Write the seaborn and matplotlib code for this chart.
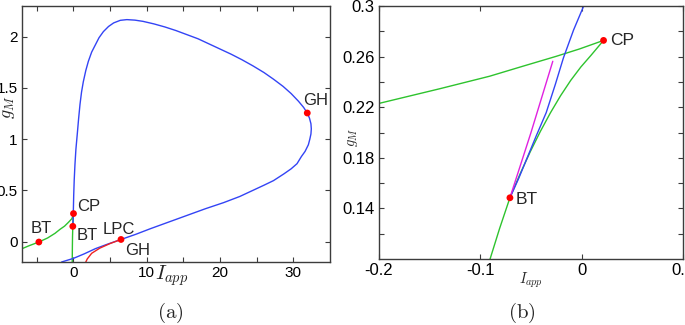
import matplotlib.pyplot as plt
import seaborn as sns
from matplotlib.ticker import FixedLocator, FixedFormatter

# Hopf curve (blue): from BT up around the loop and back down to the bottom left
hopf_x = [-0.0708, -0.062, -0.0548, -0.045, -0.035, -0.026, -0.018, -0.008, 0.002,
          0.05, 0.12, 0.22, 0.35, 0.55, 0.72, 0.91, 1.12, 1.36, 1.7, 2.05, 2.5,
          3.0, 3.5, 4.1, 4.8, 5.5, 6.4, 7.3, 8.4, 9.5, 11.0, 12.5, 14.0, 15.5,
          17.0, 18.5, 20.0, 21.5, 23.0, 24.5, 26.0, 27.3, 28.6, 29.7, 30.7, 31.4,
          31.9, 32.2, 32.4, 32.45, 32.4, 32.25, 32.05, 31.6, 31.1, 30.5, 29.7,
          28.7, 27.3, 26.0, 24.5, 22.7, 20.5, 18.0, 15.5, 13.0, 10.5, 8.5, 6.5,
          4.5, 3.0, 1.5, 0.0, -1.6]
hopf_y = [0.1484, 0.164, 0.178, 0.197, 0.2157, 0.238, 0.259, 0.281, 0.3,
          0.45, 0.6, 0.75, 0.9, 1.06, 1.2, 1.34, 1.46, 1.56, 1.67, 1.76, 1.85,
          1.92, 1.99, 2.05, 2.10, 2.135, 2.16, 2.167, 2.162, 2.15, 2.125, 2.095,
          2.06, 2.02, 1.98, 1.93, 1.88, 1.83, 1.775, 1.715, 1.65, 1.585, 1.515,
          1.445, 1.37, 1.31, 1.255, 1.205, 1.15, 1.1, 1.05, 1.0, 0.945, 0.88,
          0.83, 0.76, 0.71, 0.66, 0.595, 0.55, 0.5, 0.44, 0.38, 0.32, 0.255,
          0.19, 0.125, 0.07, 0.02, -0.03, -0.07, -0.12, -0.165, -0.2]

# saddle-node curve (green), left branch: BT(-4.7) up to CP
sn1_x = [-7.0, -6.0, -4.7, -3.5, -2.5, -1.8, -1.2, -0.7, -0.2, -0.14,
         -0.0908, -0.058, -0.0252, -0.0023, 0.0216]
sn1_y = [-0.07, -0.04, -0.005, 0.035, 0.08, 0.12, 0.15, 0.185, 0.223, 0.2346,
         0.2445, 0.2524, 0.2602, 0.266, 0.2728]

# saddle-node curve (green), lower branch: CP down through BT to the bottom
sn2_x = [0.0216, 0.0092, -0.0008, -0.0108, -0.0208, -0.0308, -0.0408, -0.0508,
         -0.0608, -0.0708, -0.081, -0.090, -0.11, -0.13, -0.15]
sn2_y = [0.2728, 0.2610, 0.2518, 0.2412, 0.2291, 0.2156, 0.2008, 0.1847,
         0.1672, 0.1484, 0.1241, 0.101, 0.05, -0.05, -0.2]

# limit point of cycles (red), from GH
lpc_x = [6.5, 5.0, 3.6, 2.5, 1.9, 1.7]
lpc_y = [0.02, -0.02, -0.065, -0.115, -0.17, -0.2]

# homoclinic (magenta), from BT
hom_x = [-0.0708, -0.05, -0.0285]
hom_y = [0.1484, 0.20, 0.2563]

# special points
pts_a_x = [-4.7, 0.0216, -0.0708, 6.5, 31.9]
pts_a_y = [-0.005, 0.2728, 0.1484, 0.02, 1.255]
lab_a = ["BT", "CP", "BT", "LPC", "GH", "GH"]
lab_a_x = [-5.8, 0.45, 0.45, 4.0, 7.05, 31.3]
lab_a_y = [0.08, 0.30, 0.016, 0.07, -0.13, 1.33]

pts_b_x = [0.0216, -0.0708]
pts_b_y = [0.2728, 0.1484]
lab_b = ["CP", "BT"]
lab_b_x = [0.0279, -0.0652]
lab_b_y = [0.2694, 0.1437]

# ticks
xa_major = [0, 10, 20, 30]
xa_minor = [-5, 5, 15, 25]
ya_major = [0, 0.5, 1, 1.5, 2]
ya_labels = ["0", "0.5", "1", "1.5", "2"]
xb_major = [-0.2, -0.1, 0, 0.1]
xb_labels = ["-0.2", "-0.1", "0", "0.1"]
yb_major = [0.14, 0.18, 0.22, 0.26, 0.3]
yb_labels = ["0.14", "0.18", "0.22", "0.26", "0.3"]
yb_minor = [0.12, 0.16, 0.2, 0.24, 0.28]

BLUE = "#3344f5"
GREEN = "#2ec32e"
RED = "#ee2222"
MAG = "#e021e0"
DOT = "#ff0000"

sns.set_theme(style="ticks")
plt.rcParams["font.family"] = ["Liberation Sans", "DejaVu Sans"]
plt.rcParams["mathtext.fontset"] = "cm"
plt.rcParams["axes.unicode_minus"] = False

fig = plt.figure(figsize=(6.85, 3.25), dpi=100)
ax_a = fig.add_axes([22 / 685, 63 / 325, 308 / 685, 256 / 325])
ax_b = fig.add_axes([379 / 685, 66 / 325, 304 / 685, 253 / 325])


def curve(ax, x, y, color):
    sns.lineplot(x=x, y=y, ax=ax, sort=False, estimator=None, color=color,
                 linewidth=1.0)


def style_axes(ax, size):
    for sp in ax.spines.values():
        sp.set_color("#3c3c3c")
        sp.set_linewidth(1.0)
    ax.tick_params(which="both", direction="in", top=True, right=True,
                   length=3.5, width=0.8, color="#3c3c3c", labelsize=size,
                   pad=3, labelcolor="black")
    ax.set_xlabel("")
    ax.set_ylabel("")


# panel (a)
curve(ax_a, sn1_x, sn1_y, GREEN)
curve(ax_a, sn2_x, sn2_y, GREEN)
curve(ax_a, hopf_x, hopf_y, BLUE)
curve(ax_a, lpc_x, lpc_y, RED)
sns.scatterplot(x=pts_a_x, y=pts_a_y, ax=ax_a, color=DOT, s=24,
                edgecolor="none", zorder=5)
for t, x, y in zip(lab_a, lab_a_x, lab_a_y):
    ax_a.text(x, y, t, fontsize=12, va="baseline", ha="left")
ax_a.set_xlim(-7, 35)
ax_a.set_ylim(-0.2, 2.3)
ax_a.xaxis.set_major_locator(FixedLocator(xa_major))
ax_a.xaxis.set_minor_locator(FixedLocator(xa_minor))
ax_a.yaxis.set_major_locator(FixedLocator(ya_major))
ax_a.yaxis.set_major_formatter(FixedFormatter(ya_labels))
style_axes(ax_a, 11)
ax_a.text(0.487, -0.005, r"$I_{app}$", transform=ax_a.transAxes,
          fontsize=15, ha="center", va="top")
ax_a.text(-0.045, 0.605, r"$g_M$", transform=ax_a.transAxes, fontsize=13,
          ha="center", va="center", rotation=90)

# panel (b)
curve(ax_b, sn1_x, sn1_y, GREEN)
curve(ax_b, sn2_x, sn2_y, GREEN)
curve(ax_b, hopf_x, hopf_y, BLUE)
curve(ax_b, hom_x, hom_y, MAG)
sns.scatterplot(x=pts_b_x, y=pts_b_y, ax=ax_b, color=DOT, s=24,
                edgecolor="none", zorder=5)
for t, x, y in zip(lab_b, lab_b_x, lab_b_y):
    ax_b.text(x, y, t, fontsize=12.5, va="baseline", ha="left")
ax_b.set_xlim(-0.2, 0.1)
ax_b.set_ylim(0.1, 0.3)
ax_b.xaxis.set_major_locator(FixedLocator(xb_major))
ax_b.xaxis.set_major_formatter(FixedFormatter(xb_labels))
ax_b.yaxis.set_major_locator(FixedLocator(yb_major))
ax_b.yaxis.set_major_formatter(FixedFormatter(yb_labels))
ax_b.yaxis.set_minor_locator(FixedLocator(yb_minor))
style_axes(ax_b, 12)
ax_b.text(0.50, -0.045, r"$I_{app}$", transform=ax_b.transAxes,
          fontsize=10.5, ha="center", va="top")
ax_b.text(-0.085, 0.48, r"$g_M$", transform=ax_b.transAxes, fontsize=10.5,
          ha="center", va="center", rotation=90)

# captions
fig.text(170 / 685, 1 - 313 / 325, r"$\mathrm{(a)}$", fontsize=15,
         ha="center", va="center")
fig.text(522 / 685, 1 - 313 / 325, r"$\mathrm{(b)}$", fontsize=15,
         ha="center", va="center")

fig.savefig("out.png", dpi=100)
